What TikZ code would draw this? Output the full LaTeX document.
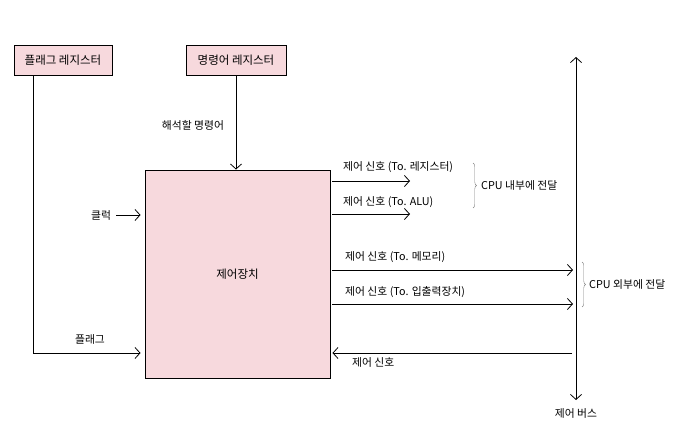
\documentclass[tikz,border=0pt]{standalone}
\usepackage{fontspec}
\setmainfont{Noto Sans CJK KR}
\usetikzlibrary{arrows.meta,decorations.pathreplacing}
\definecolor{boxpink}{HTML}{F7D9DD}
\begin{document}
\begin{tikzpicture}[x=1pt,y=-1pt,
  reg/.style={draw, line width=0.9pt, fill=boxpink, minimum width=98pt, minimum height=30pt, inner sep=0pt, font=\fontsize{11.5}{13}\selectfont},
  lbl/.style={font=\fontsize{10.8}{12}\selectfont, inner sep=0pt},
  conn/.style={line width=0.8pt, -{Straight Barb[length=5pt,width=11pt]}},
  brc/.style={decorate, decoration={brace, amplitude=3.5pt}, line width=0.4pt, draw=gray}]
\useasboundingbox (0,0) rectangle (690,446);
% boxes
\node[reg] (flagreg) at (63,60) {플래그 레지스터};
\node[reg, minimum width=100pt] (irreg) at (236,60) {명령어 레지스터};
\node[reg, minimum width=185pt, minimum height=208pt] (cu) at (237.5,274) {제어장치};
% labels
\node[lbl] (decode) at (193,125) {해석할 명령어};
\node[lbl] (clk) at (101,215) {클럭};
\node[lbl] (flag) at (90,339) {플래그};
\node[lbl, anchor=west] (l1) at (343,167) {제어 신호 (To. 레지스터)};
\node[lbl, anchor=west] (l2) at (343,202) {제어 신호 (To. ALU)};
\node[lbl, anchor=west] (l3) at (345,257) {제어 신호 (To. 메모리)};
\node[lbl, anchor=west] (l4) at (345,292) {제어 신호 (To. 입출력장치)};
\node[lbl, anchor=west] (l5) at (352,362) {제어 신호};
\node[lbl, anchor=west] (inside) at (481,185) {CPU 내부에 전달};
\node[lbl, anchor=west] (outside) at (589,284) {CPU 외부에 전달};
\node[lbl] (bus) at (576,413) {제어 버스};
% coordinates
\coordinate (flagx) at (33,0);
\coordinate (yflag) at (0,353);
\coordinate (s1) at (410,181);
\coordinate (s2) at (410,214);
\coordinate (bt) at (576,57);
\coordinate (bb) at (576,400);
\coordinate (s3) at (0,270);
\coordinate (s4) at (0,304);
\coordinate (s5) at (0,353);
% bus
\draw[line width=0.8pt, {Straight Barb[length=5pt,width=11pt]}-{Straight Barb[length=5pt,width=11pt]}] (bt) -- (bb);
% connectors
\draw[conn] (irreg.south) -- (irreg.south |- cu.north);
\draw[conn, shorten >=4pt] (flagreg.south -| flagx) |- (cu.west |- yflag);
\draw[conn, shorten >=4pt] ([xshift=5pt]clk.east) -- (cu.west |- clk);
\draw[conn] ([xshift=2pt]cu.east |- s1) -- (s1);
\draw[conn] ([xshift=2pt]cu.east |- s2) -- (s2);
\draw[conn, shorten >=3pt] ([xshift=2pt]cu.east |- s3) -- (bt |- s3);
\draw[conn, shorten >=3pt] ([xshift=2pt]cu.east |- s4) -- (bt |- s4);
\draw[conn, shorten <=4pt] (bt |- s5) -- ([xshift=2pt]cu.east |- s5);
% braces
\draw[brc] (473,163) -- (473,208);
\draw[brc] (582,262) -- (582,307);
\end{tikzpicture}
\end{document}
